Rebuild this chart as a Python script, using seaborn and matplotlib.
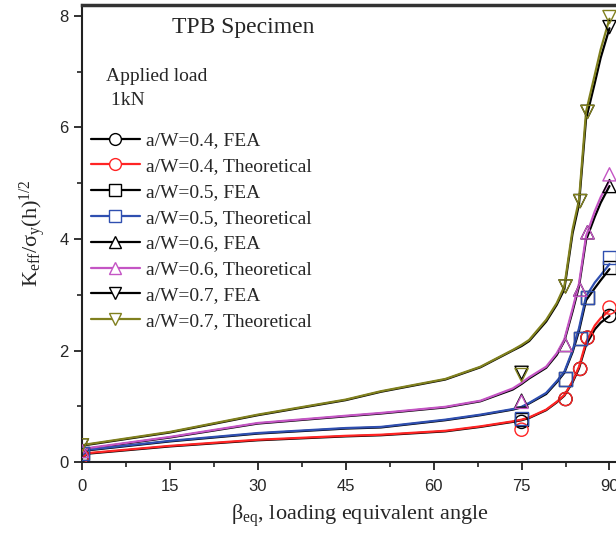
import matplotlib; matplotlib.use('Agg')
import matplotlib.pyplot as plt
from matplotlib.lines import Line2D
from matplotlib.ticker import MultipleLocator
import seaborn as sns

# theoretical curves (dense)
beta_line = [0, 1, 15, 30, 45, 51, 62, 68, 73.5, 75, 76.3, 79.2, 81, 82.3, 83.7, 84.8, 86, 87.5, 88.5, 90]
k_line = {
    '0.4': [0.08, 0.16, 0.29, 0.40, 0.47, 0.49, 0.56, 0.64, 0.73, 0.76, 0.80, 0.94, 1.08, 1.20, 1.45, 1.71, 2.15, 2.45, 2.58, 2.72],
    '0.5': [0.12, 0.22, 0.38, 0.52, 0.61, 0.63, 0.76, 0.85, 0.95, 0.99, 1.06, 1.24, 1.45, 1.62, 2.00, 2.40, 2.97, 3.22, 3.35, 3.55],
    '0.6': [0.15, 0.25, 0.45, 0.70, 0.83, 0.88, 0.99, 1.10, 1.32, 1.42, 1.52, 1.71, 1.95, 2.20, 2.75, 3.20, 4.05, 4.50, 4.75, 5.05],
    '0.7': [0.30, 0.32, 0.54, 0.85, 1.12, 1.27, 1.49, 1.71, 2.01, 2.10, 2.19, 2.55, 2.85, 3.15, 4.17, 4.70, 6.28, 6.95, 7.40, 7.95],
}
# FEA curves (dense)
k_fea_line = {
    '0.4': [0.08, 0.15, 0.28, 0.39, 0.46, 0.48, 0.55, 0.63, 0.72, 0.75, 0.79, 0.93, 1.07, 1.19, 1.43, 1.68, 2.10, 2.38, 2.50, 2.62],
    '0.5': [0.12, 0.21, 0.37, 0.51, 0.60, 0.62, 0.75, 0.84, 0.94, 0.98, 1.05, 1.22, 1.43, 1.60, 1.97, 2.35, 2.90, 3.12, 3.26, 3.46],
    '0.6': [0.15, 0.24, 0.44, 0.69, 0.82, 0.87, 0.98, 1.09, 1.30, 1.40, 1.50, 1.69, 1.92, 2.17, 2.70, 3.15, 3.98, 4.40, 4.65, 4.95],
    '0.7': [0.30, 0.31, 0.53, 0.84, 1.11, 1.26, 1.48, 1.70, 2.00, 2.08, 2.17, 2.52, 2.82, 3.10, 4.10, 4.62, 6.15, 6.80, 7.25, 7.78],
}
# marker points
beta_mk = [0, 75, 82.5, 85, 86.25, 90]
k_mk = {
    '0.4': [0.10, 0.58, 1.13, 1.67, 2.23, 2.77],
    '0.5': [0.15, 0.78, 1.49, 2.21, 2.95, 3.67],
    '0.6': [0.20, 1.08, 2.10, 3.09, 4.12, 5.16],
    '0.7': [0.30, 1.56, 3.15, 4.68, 6.28, 7.98],
}
k_fea_mk = {
    '0.4': [0.10, 0.72, 1.13, 1.67, 2.23, 2.62],
    '0.5': [0.15, 0.76, 1.49, 2.21, 2.95, 3.49],
    '0.6': [0.20, 1.10, 2.10, 3.09, 4.12, 4.95],
    '0.7': [0.30, 1.60, 3.15, 4.68, 6.28, 7.80],
}
ratios = ['0.4', '0.5', '0.6', '0.7']
colors = {'0.4': '#ff2424', '0.5': '#2f4fb0', '0.6': '#c455c4', '0.7': '#80801e'}
markers = {'0.4': 'o', '0.5': 's', '0.6': '^', '0.7': 'v'}

sns.set_style('ticks')
plt.rcParams['font.family'] = ['Liberation Serif', 'DejaVu Serif']
plt.rcParams['mathtext.fontset'] = 'custom'
plt.rcParams['mathtext.rm'] = 'Liberation Serif'
plt.rcParams['mathtext.it'] = 'Liberation Serif:italic'

fig = plt.figure(figsize=(6.16, 5.36), dpi=100)
ax = fig.add_axes([0.133, 0.138, 0.904, 0.853])

for r in ratios:
    sns.lineplot(x=beta_line, y=k_fea_line[r], color='black', lw=1.6, sort=False, ax=ax, legend=False)
    ax.scatter(beta_mk, k_fea_mk[r], marker=markers[r], s=90, facecolors='none',
               edgecolors='black', linewidths=1.0, zorder=3)
for r in ratios:
    sns.lineplot(x=beta_line, y=k_line[r], color=colors[r], lw=1.6, sort=False, ax=ax, legend=False)
    sns.scatterplot(x=beta_mk, y=k_mk[r], marker=markers[r], s=90, facecolors='none',
                    edgecolors=colors[r], linewidths=1.0, zorder=4, ax=ax, legend=False)

ax.set_xlim(0, 95)
ax.set_ylim(0, 8.2)
ax.xaxis.set_major_locator(MultipleLocator(15))
ax.xaxis.set_minor_locator(MultipleLocator(7.5))
ax.yaxis.set_major_locator(MultipleLocator(2))
ax.yaxis.set_minor_locator(MultipleLocator(1))
ax.tick_params(which='major', length=6, width=1.3, labelsize=12, color='#222222')
ax.tick_params(axis='x', which='major', pad=6)
ax.tick_params(which='minor', length=3.5, width=1.2, color='#222222')
for lab in ax.get_xticklabels() + ax.get_yticklabels():
    lab.set_fontfamily('Liberation Sans')
for s in ['left', 'bottom']:
    ax.spines[s].set_linewidth(1.5)
    ax.spines[s].set_color('#222222')
ax.spines['top'].set_linewidth(2.5)
ax.spines['top'].set_color('#333333')
ax.spines['right'].set_visible(False)

ax.set_xlabel(r'β$_{\mathrm{eq}}$, loading equivalent angle', fontsize=16, labelpad=6)
ax.set_ylabel(r'K$_{\mathrm{eff}}$/σ$_{\mathrm{y}}$(h)$^{1/2}$', fontsize=16, labelpad=8)

ax.text(0.29, 0.95, 'TPB Specimen', transform=ax.transAxes, fontsize=17, ha='center', va='center')
ax.text(0.043, 0.817, 'Applied load\n 1kN', transform=ax.transAxes, fontsize=14,
        ha='left', va='center', linespacing=1.5)

handles, labels = [], []
for r in ratios:
    handles.append(Line2D([0], [0], color='black', lw=1.6, marker=markers[r], ms=8.5,
                          mfc='white', mec='black', mew=1.0))
    labels.append(f'a/W={r}, FEA')
    handles.append(Line2D([0], [0], color=colors[r], lw=1.6, marker=markers[r], ms=8.5,
                          mfc='white', mec=colors[r], mew=1.0))
    labels.append(f'a/W={r}, Theoretical')
ax.legend(handles, labels, loc='upper left', bbox_to_anchor=(-0.008, 0.752), frameon=False,
          fontsize=14, handlelength=2.5, handletextpad=0.3, labelspacing=0.42,
          borderaxespad=0.3)

fig.savefig('out.png', dpi=100)
